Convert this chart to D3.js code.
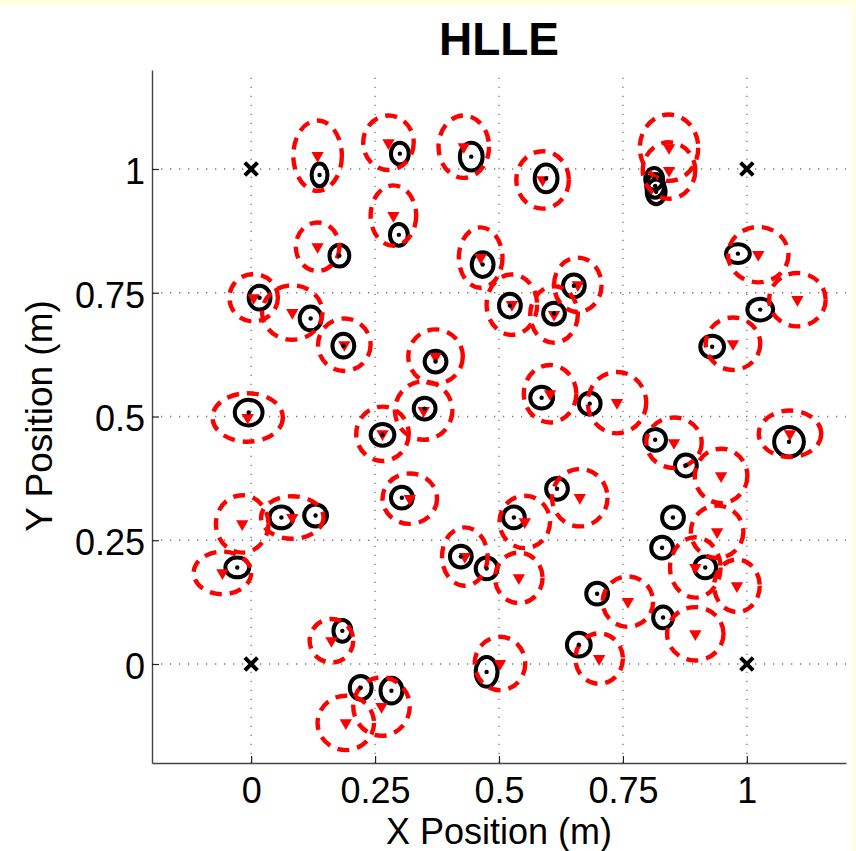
<!DOCTYPE html>
<html>
<head>
<meta charset="utf-8">
<script src="https://cdn.jsdelivr.net/npm/d3@7"></script>
<style>
  body { margin: 0; background: #ffffe4; }
  text { font-family: "Liberation Sans", Arial, Helvetica, sans-serif; fill: #000; }
</style>
</head>
<body>
<svg id="chart" width="856" height="851"></svg>
<script>
// estimated node positions (black ellipses), metres
const estX  = [0.138, 0.300, 0.444, 0.595, 0.813, 0.815, 0.817, 0.982, 0.178, 0.298, 0.467, 0.017,
               0.120, 0.186, 0.522, 0.611, 0.651, 1.027, 0.930, 0.372, -0.005, 0.265, 0.350, 0.586,
               0.683, 0.815, 0.877, 1.085, 0.304, 0.617, 0.061, 0.130, 0.530, 0.851, 0.829, 0.423,
               0.475, -0.028, 0.916, 0.698, 0.831, 0.661, 0.184, 0.475, 0.221, 0.283];
const estY  = [0.988, 1.031, 1.025, 0.981, 0.980, 0.966, 0.954, 0.829, 0.825, 0.867, 0.807, 0.740,
               0.698, 0.643, 0.724, 0.708, 0.764, 0.716, 0.641, 0.611, 0.508, 0.463, 0.516, 0.538,
               0.526, 0.453, 0.401, 0.449, 0.336, 0.354, 0.296, 0.300, 0.296, 0.296, 0.235, 0.217,
               0.193, 0.195, 0.195, 0.142, 0.094, 0.039, 0.067, -0.016, -0.048, -0.054];
const estRx = [0.016, 0.018, 0.023, 0.023, 0.018, 0.018, 0.019, 0.024, 0.020, 0.018, 0.022, 0.022,
               0.022, 0.022, 0.022, 0.022, 0.022, 0.026, 0.024, 0.022, 0.028, 0.024, 0.022, 0.023,
               0.022, 0.022, 0.022, 0.030, 0.022, 0.022, 0.024, 0.023, 0.022, 0.022, 0.022, 0.022,
               0.022, 0.024, 0.022, 0.022, 0.020, 0.024, 0.018, 0.022, 0.022, 0.022];
const estRy = [0.023, 0.022, 0.028, 0.028, 0.022, 0.024, 0.025, 0.019, 0.022, 0.022, 0.025, 0.024,
               0.024, 0.024, 0.024, 0.022, 0.023, 0.022, 0.022, 0.022, 0.026, 0.022, 0.022, 0.022,
               0.022, 0.022, 0.022, 0.030, 0.022, 0.022, 0.022, 0.022, 0.022, 0.022, 0.022, 0.022,
               0.022, 0.020, 0.022, 0.022, 0.022, 0.024, 0.022, 0.030, 0.024, 0.026];

// true node positions (red triangles + dashed ellipses), metres
const trueX  = [0.134, 0.277, 0.429, 0.588, 0.843, 0.843, 1.023, 0.287, 0.134, 0.463, 0.526, 0.611,
                0.659, 1.102, 0.972, 0.005, 0.083, 0.188, 0.372, -0.007, 0.265, 0.348, 0.603, 0.738,
                0.853, 0.948, 1.087, 0.320, 0.663, 0.552, -0.018, 0.083, 0.940, -0.058, 0.431, 0.540,
                0.896, 0.980, 0.760, 0.896, 0.702, 0.502, 0.162, 0.191, 0.263];
const trueY  = [1.027, 1.053, 1.045, 0.978, 1.043, 0.997, 0.827, 0.906, 0.843, 0.821, 0.726, 0.706,
                0.766, 0.736, 0.647, 0.740, 0.710, 0.645, 0.621, 0.498, 0.465, 0.512, 0.546, 0.528,
                0.447, 0.380, 0.465, 0.334, 0.336, 0.287, 0.283, 0.296, 0.267, 0.184, 0.217, 0.174,
                0.195, 0.158, 0.126, 0.061, 0.011, 0.001, 0.047, -0.119, -0.086];
const trueRx = [0.049, 0.051, 0.051, 0.053, 0.059, 0.053, 0.061, 0.046, 0.044, 0.044, 0.051, 0.048,
                0.048, 0.057, 0.055, 0.049, 0.061, 0.053, 0.055, 0.071, 0.053, 0.058, 0.053, 0.059,
                0.056, 0.053, 0.063, 0.055, 0.056, 0.051, 0.053, 0.063, 0.053, 0.058, 0.046, 0.048,
                0.051, 0.046, 0.051, 0.057, 0.048, 0.051, 0.044, 0.057, 0.057];
const trueRy = [0.071, 0.055, 0.063, 0.058, 0.067, 0.057, 0.056, 0.061, 0.049, 0.061, 0.061, 0.057,
                0.055, 0.054, 0.053, 0.048, 0.055, 0.053, 0.055, 0.049, 0.055, 0.059, 0.058, 0.062,
                0.051, 0.055, 0.047, 0.051, 0.058, 0.053, 0.058, 0.043, 0.053, 0.043, 0.059, 0.051,
                0.061, 0.053, 0.051, 0.054, 0.051, 0.054, 0.044, 0.055, 0.059];

// anchor nodes (black x)
const anchorX = [0, 0, 1, 1];
const anchorY = [0, 1, 0, 1];

const tickValues = [0, 0.25, 0.5, 0.75, 1];
const tickLabels = ["0", "0.25", "0.5", "0.75", "1"];

const svg = d3.select("#chart");
svg.append("rect").attr("x", 0).attr("y", 0).attr("width", 856).attr("height", 851).attr("fill", "#ffffe4");
svg.append("rect").attr("x", 0).attr("y", 6).attr("width", 851).attr("height", 845).attr("fill", "#fff");

const x = d3.scaleLinear().domain([-0.2, 1.2]).range([152, 846]);
const y = d3.scaleLinear().domain([-0.2, 1.2]).range([763, 70]);

// dotted grid
const grid = svg.append("g")
  .attr("stroke", "#777").attr("stroke-width", 1.3).attr("stroke-dasharray", "1.3,7.7");
grid.selectAll(".gx").data(tickValues).join("line")
  .attr("x1", d => x(d)).attr("x2", d => x(d)).attr("y1", y.range()[0]).attr("y2", y.range()[1]);
grid.selectAll(".gy").data(tickValues).join("line")
  .attr("x1", x.range()[0]).attr("x2", x.range()[1]).attr("y1", d => y(d)).attr("y2", d => y(d));

// axes, ticks pointing inward
const fmt = d => tickLabels[tickValues.indexOf(d)];
const xAxis = svg.append("g").attr("transform", `translate(0,${y.range()[0]})`)
  .call(d3.axisBottom(x).tickValues(tickValues).tickFormat(fmt).tickSizeInner(-7).tickSizeOuter(0).tickPadding(14));
const yAxis = svg.append("g").attr("transform", `translate(${x.range()[0]},0)`)
  .call(d3.axisLeft(y).tickValues(tickValues).tickFormat(fmt).tickSizeInner(-7).tickSizeOuter(0).tickPadding(7));
[xAxis, yAxis].forEach(a => {
  a.select(".domain").attr("stroke", "#444").attr("stroke-width", 1.4);
  a.selectAll(".tick line").attr("stroke", "#222").attr("stroke-width", 1.2);
  a.selectAll(".tick text").attr("font-size", 36).attr("fill", "#000")
    .attr("font-family", "'Liberation Sans', Arial, sans-serif");
});
yAxis.selectAll(".tick text").attr("dy", "0.4em");

const est = estX.map((d, i) => ({x: d, y: estY[i], rx: estRx[i], ry: estRy[i]}));
const tru = trueX.map((d, i) => ({x: d, y: trueY[i], rx: trueRx[i], ry: trueRy[i]}));

// black estimate ellipses
svg.append("g").selectAll("ellipse").data(est).join("ellipse")
  .attr("cx", d => x(d.x)).attr("cy", d => y(d.y))
  .attr("rx", d => x(d.x + d.rx) - x(d.x)).attr("ry", d => y(d.y) - y(d.y + d.ry))
  .attr("fill", "none").attr("stroke", "#000").attr("stroke-width", 4);

// red dashed uncertainty ellipses
svg.append("g").selectAll("ellipse").data(tru).join("ellipse")
  .attr("cx", d => x(d.x)).attr("cy", d => y(d.y))
  .attr("rx", d => x(d.x + d.rx) - x(d.x)).attr("ry", d => y(d.y) - y(d.y + d.ry))
  .attr("fill", "none").attr("stroke", "#ff0000").attr("stroke-width", 4.4)
  .attr("stroke-dasharray", "12,8");

// red triangles
const tri = d3.symbol().type(d3.symbolTriangle).size(66);
svg.append("g").selectAll("path").data(tru).join("path")
  .attr("d", tri)
  .attr("transform", d => `translate(${x(d.x)},${y(d.y)}) rotate(180)`)
  .attr("fill", "#ff0000");

// black centre dots
svg.append("g").selectAll("circle").data(est).join("circle")
  .attr("cx", d => x(d.x)).attr("cy", d => y(d.y)).attr("r", 2.2).attr("fill", "#000");

// anchors
const anchors = anchorX.map((d, i) => ({x: d, y: anchorY[i]}));
svg.append("g").selectAll("path").data(anchors).join("path")
  .attr("d", d => {
    const cx = x(d.x), cy = y(d.y), s = 6.3;
    return `M${cx - s},${cy - s}L${cx + s},${cy + s}M${cx - s},${cy + s}L${cx + s},${cy - s}`;
  })
  .attr("stroke", "#000").attr("stroke-width", 4).attr("fill", "none");

// title and labels
svg.append("text").attr("x", 499).attr("y", 55).attr("text-anchor", "middle")
  .attr("font-size", 46).attr("font-weight", "bold").text("HLLE");
svg.append("text").attr("x", 499).attr("y", 844).attr("text-anchor", "middle")
  .attr("font-size", 36).text("X Position (m)");
svg.append("text").attr("transform", "translate(52,416) rotate(-90)").attr("text-anchor", "middle")
  .attr("font-size", 37).text("Y Position (m)");
</script>
</body>
</html>
